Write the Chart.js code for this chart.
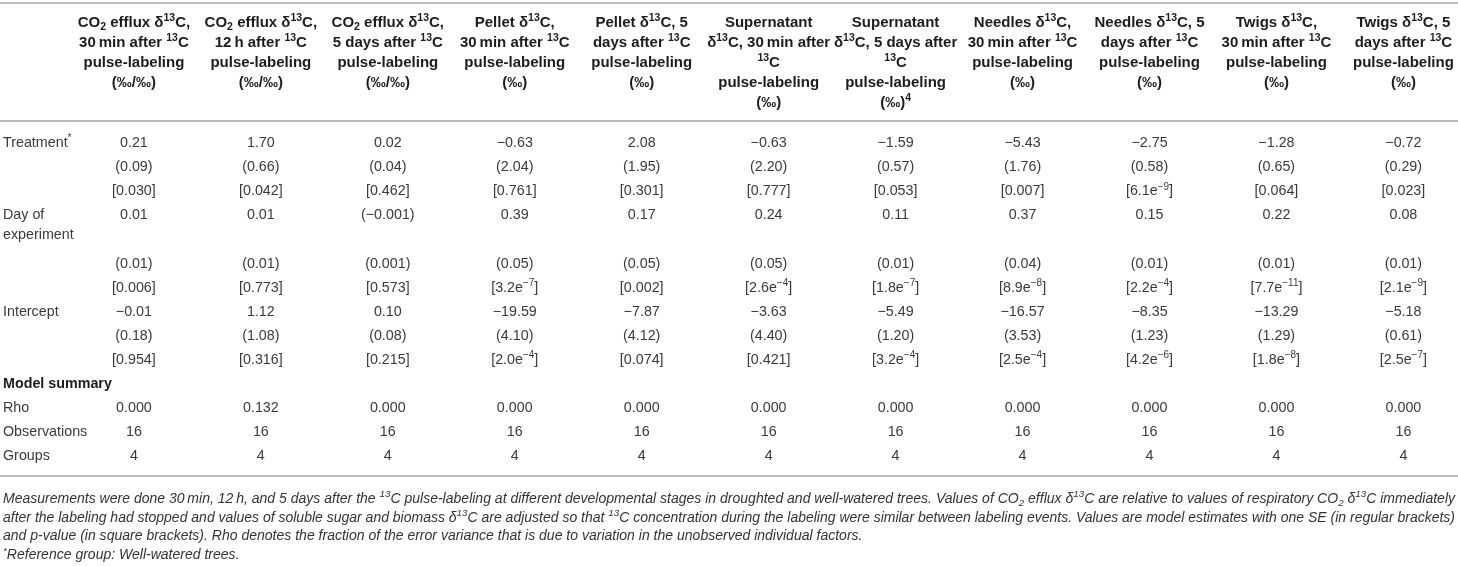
<!DOCTYPE html>
<html><head><meta charset="utf-8">
<script src="https://cdn.jsdelivr.net/npm/chart.js@4.4.1/dist/chart.umd.min.js"></script>
<style>html,body{margin:0;padding:0;background:#fff}#wrap{width:1458px;height:566px;position:relative}</style>
</head><body><div id="wrap"><canvas id="c"></canvas></div>
<script>
// ---------- DATA ----------
const columnHeaders = [
  ["CO_{2} efflux δ^{13}C,", "30\u2009min after ^{13}C", "pulse-labeling", "(‰/‰)"],
  ["CO_{2} efflux δ^{13}C,", "12\u2009h after ^{13}C", "pulse-labeling", "(‰/‰)"],
  ["CO_{2} efflux δ^{13}C,", "5 days after ^{13}C", "pulse-labeling", "(‰/‰)"],
  ["Pellet δ^{13}C,", "30\u2009min after ^{13}C", "pulse-labeling", "(‰)"],
  ["Pellet δ^{13}C, 5", "days after ^{13}C", "pulse-labeling", "(‰)"],
  ["Supernatant", "δ^{13}C, 30\u2009min after", "^{13}C", "pulse-labeling", "(‰)"],
  ["Supernatant", "δ^{13}C, 5 days after", "^{13}C", "pulse-labeling", "(‰)^{4}"],
  ["Needles δ^{13}C,", "30\u2009min after ^{13}C", "pulse-labeling", "(‰)"],
  ["Needles δ^{13}C, 5", "days after ^{13}C", "pulse-labeling", "(‰)"],
  ["Twigs δ^{13}C,", "30\u2009min after ^{13}C", "pulse-labeling", "(‰)"],
  ["Twigs δ^{13}C, 5", "days after ^{13}C", "pulse-labeling", "(‰)"]
];
const treatment   = ["0.21","1.70","0.02","−0.63","2.08","−0.63","−1.59","−5.43","−2.75","−1.28","−0.72"];
const treatmentSE = ["(0.09)","(0.66)","(0.04)","(2.04)","(1.95)","(2.20)","(0.57)","(1.76)","(0.58)","(0.65)","(0.29)"];
const treatmentP  = ["[0.030]","[0.042]","[0.462]","[0.761]","[0.301]","[0.777]","[0.053]","[0.007]","[6.1e^{−9}]","[0.064]","[0.023]"];
const dayOfExp    = ["0.01","0.01","(−0.001)","0.39","0.17","0.24","0.11","0.37","0.15","0.22","0.08"];
const dayOfExpSE  = ["(0.01)","(0.01)","(0.001)","(0.05)","(0.05)","(0.05)","(0.01)","(0.04)","(0.01)","(0.01)","(0.01)"];
const dayOfExpP   = ["[0.006]","[0.773]","[0.573]","[3.2e^{−7}]","[0.002]","[2.6e^{−4}]","[1.8e^{−7}]","[8.9e^{−8}]","[2.2e^{−4}]","[7.7e^{−11}]","[2.1e^{−9}]"];
const intercept   = ["−0.01","1.12","0.10","−19.59","−7.87","−3.63","−5.49","−16.57","−8.35","−13.29","−5.18"];
const interceptSE = ["(0.18)","(1.08)","(0.08)","(4.10)","(4.12)","(4.40)","(1.20)","(3.53)","(1.23)","(1.29)","(0.61)"];
const interceptP  = ["[0.954]","[0.316]","[0.215]","[2.0e^{−4}]","[0.074]","[0.421]","[3.2e^{−4}]","[2.5e^{−4}]","[4.2e^{−6}]","[1.8e^{−8}]","[2.5e^{−7}]"];
const rho          = ["0.000","0.132","0.000","0.000","0.000","0.000","0.000","0.000","0.000","0.000","0.000"];
const observations = ["16","16","16","16","16","16","16","16","16","16","16"];
const groups       = ["4","4","4","4","4","4","4","4","4","4","4"];
const footnotes = [
  "Measurements were done 30\u2009min, 12\u2009h, and 5 days after the ^{13}C pulse-labeling at different developmental stages in droughted and well-watered trees. Values of CO_{2} efflux δ^{13}C are relative to values of respiratory CO_{2} δ^{13}C immediately",
  "after the labeling had stopped and values of soluble sugar and biomass δ^{13}C are adjusted so that ^{13}C concentration during the labeling were similar between labeling events. Values are model estimates with one SE (in regular brackets)",
  "and p-value (in square brackets). Rho denotes the fraction of the error variance that is due to variation in the unobserved individual factors.",
  "^{*}Reference group: Well-watered trees."
];

// ---------- TABLE STRUCTURE ----------
const rows = [
  {label:["Treatment^{*}"], values:treatment},
  {label:[""], values:treatmentSE},
  {label:[""], values:treatmentP},
  {label:["Day of","experiment"], values:dayOfExp},
  {label:[""], values:dayOfExpSE},
  {label:[""], values:dayOfExpP},
  {label:["Intercept"], values:intercept},
  {label:[""], values:interceptSE},
  {label:[""], values:interceptP},
  {label:["Model summary"], values:null, bold:true},
  {label:["Rho"], values:rho},
  {label:["Observations"], values:observations},
  {label:["Groups"], values:groups}
];
let slot = 0;
rows.forEach(r => { r.slot = slot; slot += r.label.length; });

const FAM = "'Liberation Sans', Arial, Helvetica, sans-serif";

function parseRich(s){
  const out=[]; const re=/([_^])\{([^}]*)\}/g; let last=0,m;
  while((m=re.exec(s))){ if(m.index>last) out.push({t:s.slice(last,m.index),k:''}); out.push({t:m[2],k:m[1]}); last=re.lastIndex; }
  if(last<s.length) out.push({t:s.slice(last),k:''});
  return out;
}
function measureRich(ctx, s, size, weight, style){
  const segs=parseRich(s); let w=0;
  segs.forEach(g=>{ ctx.font=`${style} ${weight} ${g.k?size*0.7:size}px ${FAM}`; g.w=ctx.measureText(g.t).width; w+=g.w; });
  return {segs,w};
}
function drawRich(ctx, s, x, y, o){
  const size=o.size, weight=o.weight||'normal', style=o.style||'normal', sx=o.sx||1;
  const {segs,w}=measureRich(ctx,s,size,weight,style);
  const startX = o.align==='center' ? x - w*sx/2 : x;
  ctx.save(); ctx.translate(startX,y); ctx.scale(sx,1);
  ctx.fillStyle=o.color; ctx.textBaseline='alphabetic'; ctx.textAlign='left';
  let cx=0;
  segs.forEach(g=>{
    ctx.font=`${style} ${weight} ${g.k?size*0.7:size}px ${FAM}`;
    const dy = g.k==='^' ? -size*0.4 : (g.k==='_' ? size*0.2 : 0);
    ctx.fillText(g.t, cx, size*0.36+dy);
    cx+=g.w;
  });
  ctx.restore();
  return w;
}

// layout constants (scale ranges, not data)
const COL0_PX = 133.9, COL_STEP = 126.95, ROW0_PX = 142, ROW_STEP = 24.1, W = 1458, H = 566;
const X_MIN = -COL0_PX/COL_STEP, X_MAX = (W-COL0_PX)/COL_STEP;
const Y_MIN = -ROW0_PX/ROW_STEP, Y_MAX = (H-ROW0_PX)/ROW_STEP;
const LABEL_X = (3-COL0_PX)/COL_STEP;
const RULES_Y = [(3-ROW0_PX)/ROW_STEP, (121-ROW0_PX)/ROW_STEP, (476-ROW0_PX)/ROW_STEP];
const HEADER_Y = (22-ROW0_PX)/ROW_STEP, HEADER_LH = 20;
const FOOT_Y = (498-ROW0_PX)/ROW_STEP, FOOT_LH = 18.7;

const datasets = rows.filter(r=>r.values).map(r=>({
  label: r.label.join(' '),
  texts: r.values,
  data: r.values.map((v,i)=>({x:i, y:r.slot})),
  pointRadius:0, showLine:false
}));

const tablePlugin = {
  id:'tableText',
  afterDatasetsDraw(chart){
    const ctx=chart.ctx, xs=chart.scales.x, ys=chart.scales.y;
    // rules
    ctx.save(); ctx.strokeStyle='#bcbcbc'; ctx.lineWidth=2;
    RULES_Y.forEach(v=>{ const p=Math.round(ys.getPixelForValue(v)); ctx.beginPath(); ctx.moveTo(0,p); ctx.lineTo(W,p); ctx.stroke(); });
    ctx.restore();
    // header
    const hy0 = ys.getPixelForValue(HEADER_Y);
    columnHeaders.forEach((lines,i)=>{
      const px = xs.getPixelForValue(i);
      lines.forEach((ln,j)=> drawRich(ctx, ln, px, hy0 + j*HEADER_LH, {size:15, weight:'bold', color:'#1c1c1c', align:'center'}));
    });
    // row labels
    const lx = xs.getPixelForValue(LABEL_X);
    rows.forEach(r=>{
      const py = ys.getPixelForValue(r.slot);
      r.label.forEach((ln,j)=>{ if(ln) drawRich(ctx, ln, lx, py + j*20, {size:14.3, weight:r.bold?'bold':'normal', color:r.bold?'#1c1c1c':'#3a3a3a', align:'left'}); });
    });
    // cells
    chart.data.datasets.forEach((ds,d)=>{
      const meta=chart.getDatasetMeta(d);
      meta.data.forEach((pt,i)=> drawRich(ctx, ds.texts[i], pt.x, pt.y, {size:14.3, color:'#3a3a3a', align:'center'}));
    });
    // footnotes
    const fy0 = ys.getPixelForValue(FOOT_Y);
    const fs = 13.8;
    const target = W - 6;
    const w1 = measureRich(ctx, footnotes[0], fs, 'normal', 'italic').w;
    const w2 = measureRich(ctx, footnotes[1], fs, 'normal', 'italic').w;
    const s1 = target / w1, s2 = target / w2;
    footnotes.forEach((ln,j)=>{
      const sx = j===0 ? s1 : (j===1 ? s2 : s1);
      drawRich(ctx, ln, lx, fy0 + j*FOOT_LH, {size:fs, style:'italic', color:'#333', align:'left', sx});
    });
  }
};

new Chart(document.getElementById('c'), {
  type:'scatter',
  data:{datasets},
  options:{
    responsive:true, maintainAspectRatio:false, animation:false, events:[],
    layout:{padding:0},
    plugins:{legend:{display:false}, tooltip:{enabled:false}},
    scales:{
      x:{type:'linear', display:false, min:X_MIN, max:X_MAX},
      y:{type:'linear', display:false, reverse:true, min:Y_MIN, max:Y_MAX}
    }
  },
  plugins:[tablePlugin]
});
</script>
</body></html>
